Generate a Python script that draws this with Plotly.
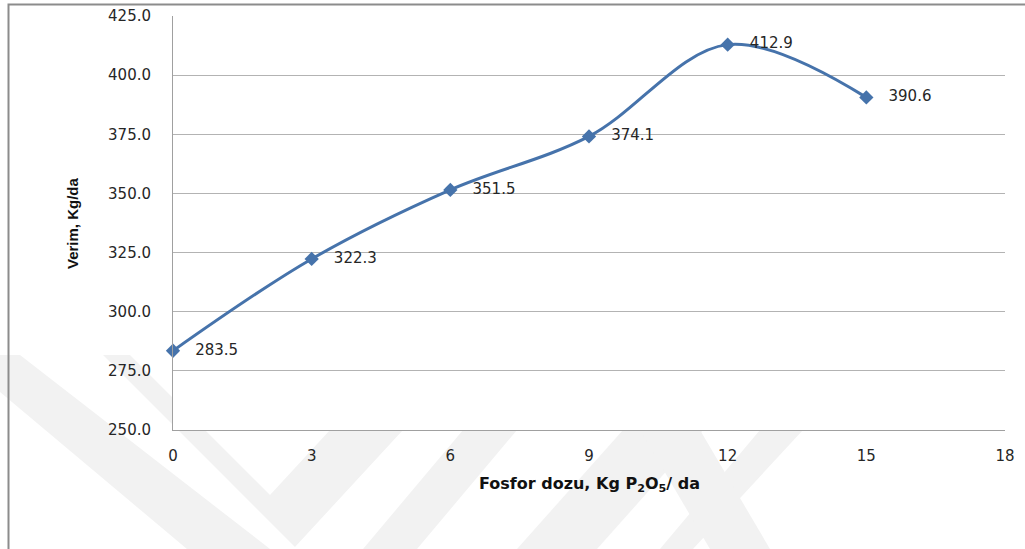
import plotly.graph_objects as go

# ---- data ----
fosfor_dozu = [0, 3, 6, 9, 12, 15]
verim = [283.5, 322.3, 351.5, 374.1, 412.9, 390.6]
labels = ["283.5", "322.3", "351.5", "374.1", "412.9", "390.6"]
x_ticks = [0, 3, 6, 9, 12, 15, 18]
y_ticks = [250, 275, 300, 325, 350, 375, 400, 425]

W, H = 1025, 549
L, R, T, B = 173, 1005, 16, 430


def xp(px):
    return (px - L) / (R - L)


def yp(py):
    return (B - py) / (B - T)


def poly(points):
    return "M " + " L ".join(f"{xp(a):.4f},{yp(b):.4f}" for a, b in points) + " Z"


line_color = "#4673AB"
wm = "#f2f2f2"

fig = go.Figure()
fig.add_trace(go.Scatter(
    x=fosfor_dozu, y=verim,
    mode="lines+markers+text",
    line=dict(color=line_color, width=3, shape="spline", smoothing=1.0),
    marker=dict(symbol="diamond", size=11, color=line_color),
    text=["   " + t for t in labels],
    textposition="middle right",
    textfont=dict(family="DejaVu Sans", size=15, color="#262626"),
    cliponaxis=False,
    showlegend=False,
))

shapes = []
# faint watermark bands (background, outside plot)
for pts in [
    [(0, 392), (0, 355), (20, 355), (270, 549), (187, 549)],
    [(103, 355), (130, 355), (270, 495), (330, 430), (403, 430), (295, 547)],
    [(363, 549), (417, 549), (517, 430), (463, 430)],
    [(517, 549), (597, 549), (703, 430), (623, 430)],
    [(660, 549), (693, 549), (803, 430), (760, 430)],
    [(640, 430), (700, 430), (770, 549), (710, 549)],
]:
    shapes.append(dict(type="path", xref="paper", yref="paper", path=poly(pts),
                       fillcolor=wm, line=dict(width=0), layer="below"))
# white plot area over watermark
shapes.append(dict(type="rect", xref="paper", yref="paper", x0=0, x1=1, y0=0, y1=1,
                   fillcolor="white", line=dict(width=0), layer="below"))
# outer frame (top and left edges visible)
shapes.append(dict(type="rect", xref="paper", yref="paper",
                   x0=xp(8.5), x1=xp(1040), y0=yp(560), y1=yp(4.5),
                   line=dict(color="#8c8c8c", width=2), fillcolor="rgba(0,0,0,0)"))

fig.update_layout(
    width=W, height=H,
    margin=dict(l=L, r=W - R, t=T, b=H - B, autoexpand=False),
    paper_bgcolor="white",
    plot_bgcolor="white",
    shapes=shapes,
    xaxis=dict(
        range=[0, 18], tickvals=x_ticks, ticktext=[str(v) for v in x_ticks],
        showgrid=False, zeroline=False,
        showline=True, linecolor="#a0a0a0", linewidth=1,
        ticks="outside", ticklen=12, tickcolor="rgba(0,0,0,0)",
        tickfont=dict(family="DejaVu Sans", size=15, color="#262626"),
        automargin=False,
    ),
    yaxis=dict(
        range=[250, 425], tickvals=y_ticks, tickformat=".1f",
        showgrid=True, gridcolor="#b3b3b3", gridwidth=1, zeroline=False,
        showline=True, linecolor="#a0a0a0", linewidth=1,
        ticks="outside", ticklen=18, tickcolor="rgba(0,0,0,0)",
        tickfont=dict(family="DejaVu Sans", size=15, color="#262626"),
        automargin=False,
    ),
    annotations=[
        dict(text="Fosfor dozu, Kg P<sub>2</sub>O<sub>5</sub>/ da", xref="paper", yref="paper",
             x=xp(589), y=yp(485), xanchor="center", yanchor="middle", showarrow=False,
             font=dict(family="DejaVu Sans", size=16, color="#111111", weight="bold")),
        dict(text="Verim, Kg/da", xref="paper", yref="paper",
             x=xp(72), y=yp(223), xanchor="center", yanchor="middle", showarrow=False,
             textangle=-90,
             font=dict(family="Liberation Sans Narrow, Liberation Sans", size=15, color="#111111", weight="bold")),
    ],
)

fig.write_html("out.html", config={"displayModeBar": False},
               post_script="document.body.style.margin='0';document.body.style.padding='0';")
